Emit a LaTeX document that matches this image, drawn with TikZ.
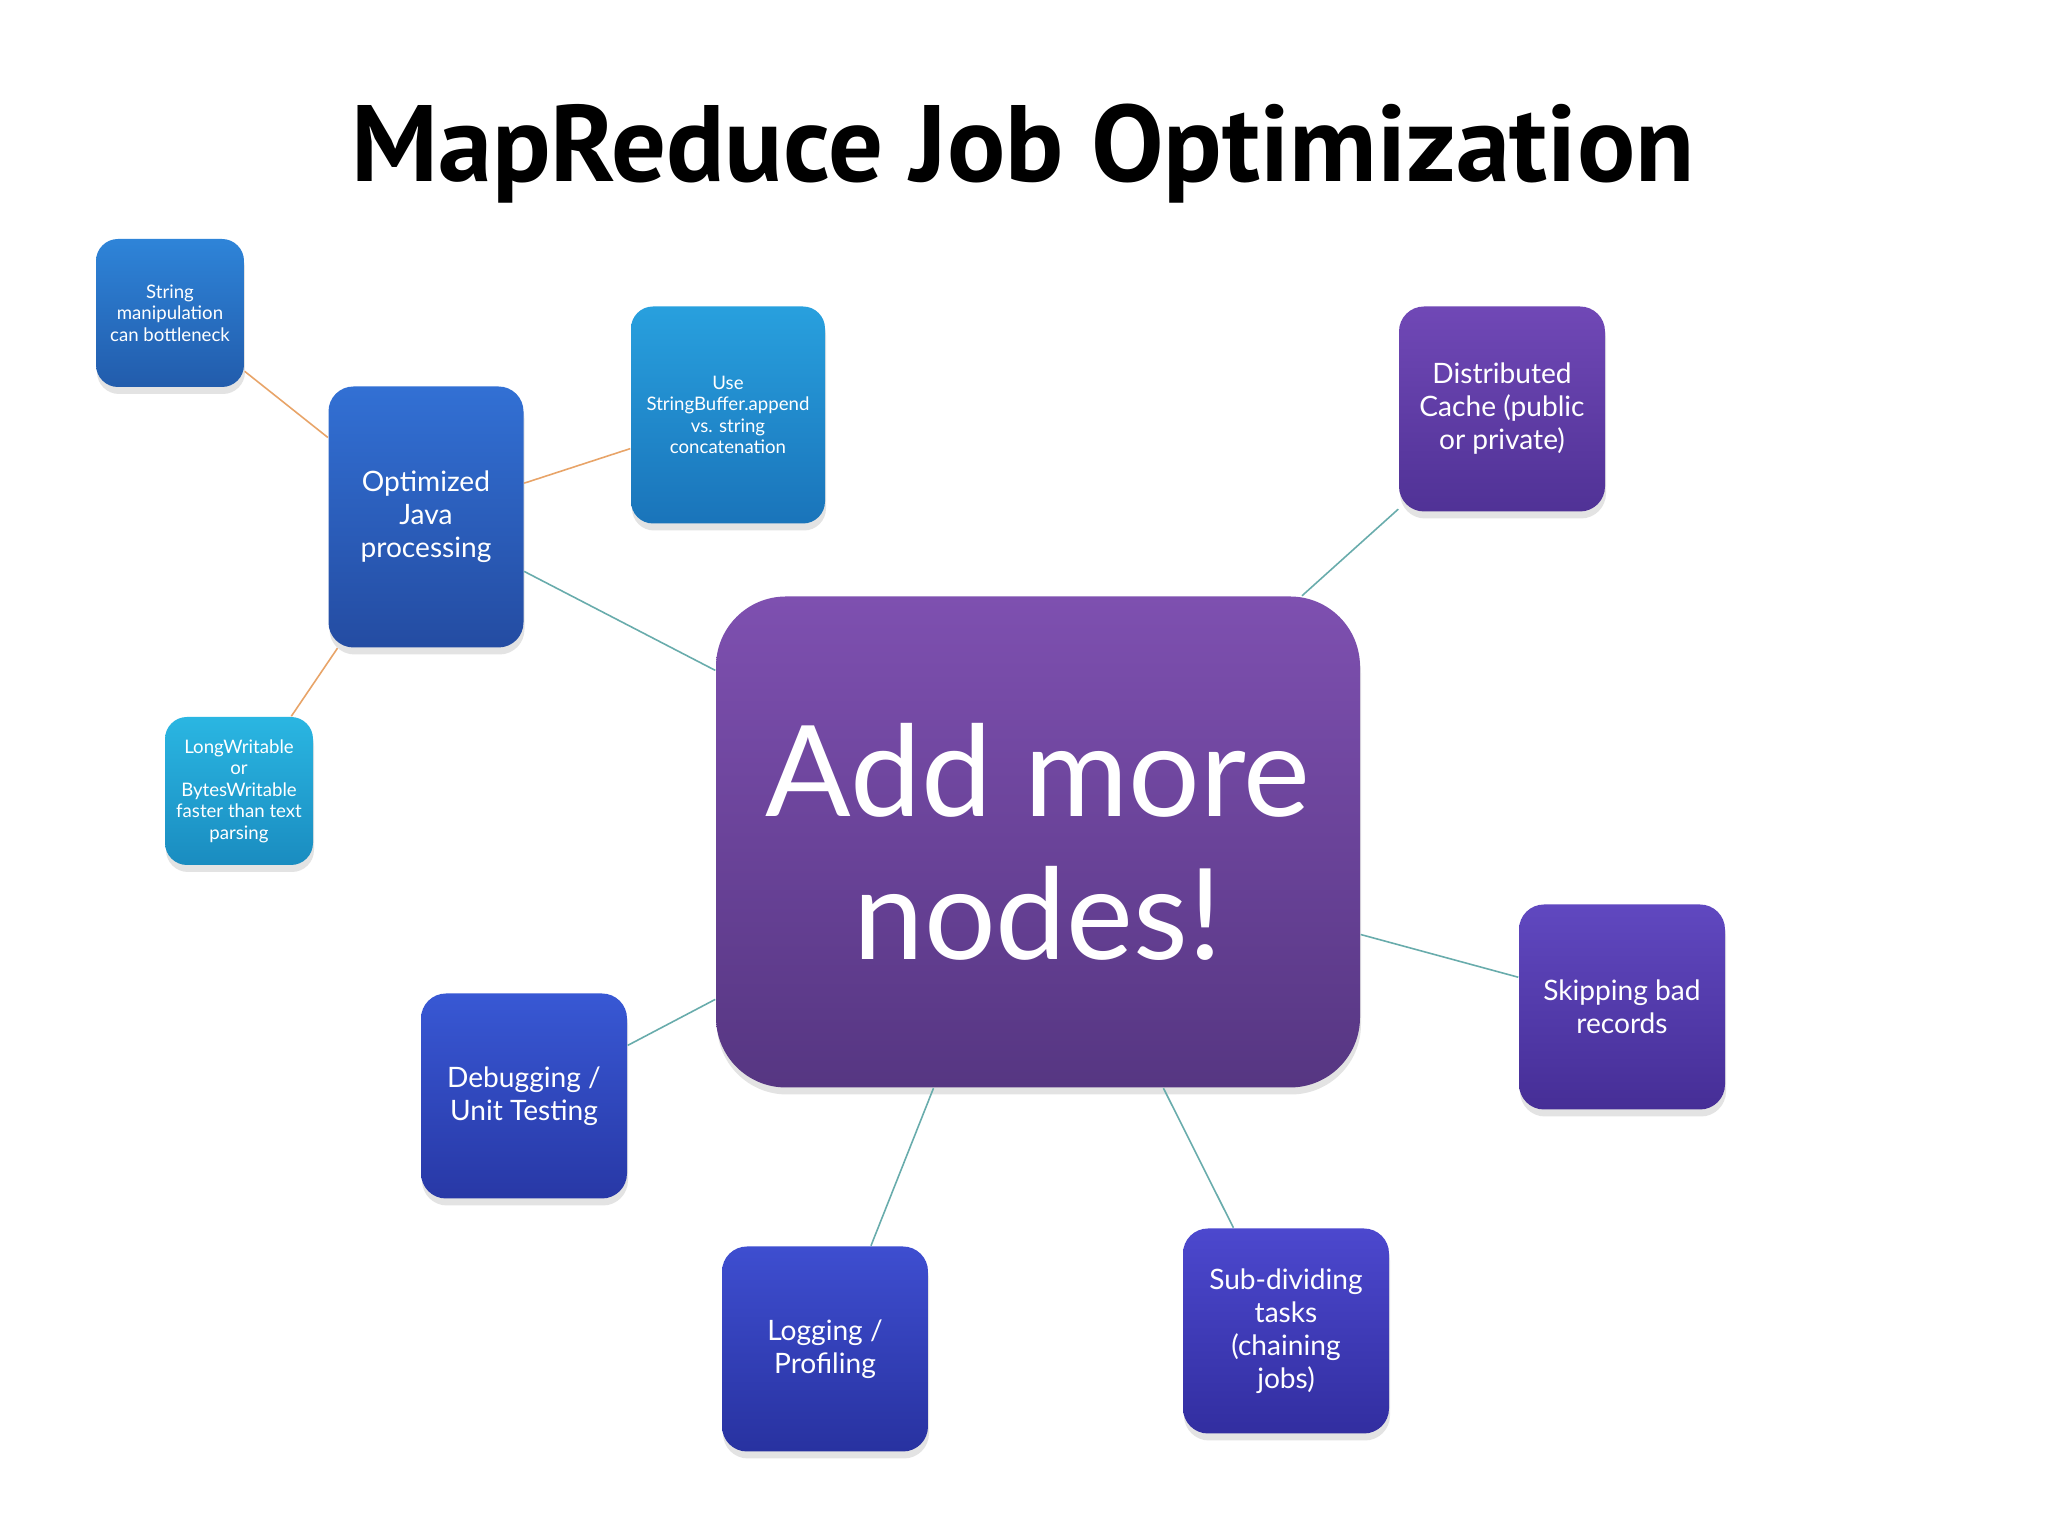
\documentclass[tikz,border=0pt]{standalone}
\usepackage{fontspec}
\setmainfont{Lato}
\newfontfamily\titlefont{PT Sans}
\usetikzlibrary{shadows}

\definecolor{stringTop}{RGB}{46,132,216}
\definecolor{stringBot}{RGB}{34,92,172}
\definecolor{javaTop}{RGB}{50,112,212}
\definecolor{javaBot}{RGB}{36,76,162}
\definecolor{bufferTop}{RGB}{40,160,222}
\definecolor{bufferBot}{RGB}{26,116,186}
\definecolor{writableTop}{RGB}{42,182,226}
\definecolor{writableBot}{RGB}{26,140,192}
\definecolor{cacheTop}{RGB}{112,72,182}
\definecolor{cacheBot}{RGB}{80,50,150}
\definecolor{mainTop}{RGB}{126,80,176}
\definecolor{mainBot}{RGB}{86,54,130}
\definecolor{skipTop}{RGB}{96,72,192}
\definecolor{skipBot}{RGB}{70,46,150}
\definecolor{debugTop}{RGB}{56,88,212}
\definecolor{debugBot}{RGB}{40,56,166}
\definecolor{logTop}{RGB}{62,78,208}
\definecolor{logBot}{RGB}{40,50,160}
\definecolor{subTop}{RGB}{76,72,206}
\definecolor{subBot}{RGB}{50,46,160}
\definecolor{linkOrange}{RGB}{232,164,104}
\definecolor{linkTeal}{RGB}{104,172,172}

\newcommand{\pageWidth}{20.48}
\newcommand{\pageHeight}{15.36}
\newcommand{\linkWidth}{0.45pt}

\tikzset{
  mapbox/.style={rounded corners=0.25cm, align=center, text=white, inner sep=0pt,
    drop shadow={opacity=0.22, shadow xshift=0.01, shadow yshift=-0.07}},
  topic/.style={mapbox, minimum width=2.06cm, minimum height=2.05cm,
    font=\fontsize{8}{9.4}\selectfont},
  detail/.style={mapbox, rounded corners=0.22cm, minimum width=1.48cm, minimum height=1.48cm,
    font=\fontsize{5.3}{6.1}\selectfont},
  orangelink/.style={draw=linkOrange, line width=\linkWidth},
  teallink/.style={draw=linkTeal, line width=\linkWidth}
}

\begin{document}
\begin{tikzpicture}
\useasboundingbox[fill=white] (0,0) rectangle (\pageWidth,\pageHeight);

\node (title) at (10.23,13.82) {\titlefont\bfseries\fontsize{30.9}{34}\selectfont MapReduce Job Optimization};

% centre node
\node[mapbox, rounded corners=0.7cm, minimum width=6.44cm, minimum height=4.91cm,
  top color=mainTop, bottom color=mainBot, font=\fontsize{36}{40.5}\selectfont]
  (main) at (10.38,6.94) {Add more\\nodes!};

% java branch
\node[topic, minimum width=1.95cm, minimum height=2.61cm, top color=javaTop, bottom color=javaBot]
  (java) at (4.26,10.19) {Optimized\\Java\\processing};
\node[detail, top color=stringTop, bottom color=stringBot]
  (string) at (1.70,12.23) {String\\manipulation\\can bottleneck};
\node[detail, minimum width=1.94cm, minimum height=2.17cm, top color=bufferTop, bottom color=bufferBot]
  (buffer) at (7.28,11.21) {Use\\StringBuffer.append\\vs. string\\concatenation};
\node[detail, top color=writableTop, bottom color=writableBot]
  (writable) at (2.39,7.45) {LongWritable\\or\\BytesWritable\\faster than text\\parsing};

% other topics
\node[topic, top color=cacheTop, bottom color=cacheBot]
  (cache) at (15.02,11.27) {Distributed\\Cache (public\\or private)};
\node[topic, top color=skipTop, bottom color=skipBot]
  (skip) at (16.22,5.29) {Skipping bad\\records};
\node[topic, top color=debugTop, bottom color=debugBot]
  (debug) at (5.24,4.40) {Debugging /\\Unit Testing};
\node[topic, top color=logTop, bottom color=logBot]
  (logging) at (8.25,1.87) {Logging /\\Profiling};
\node[topic, top color=subTop, bottom color=subBot]
  (subdiv) at (12.86,2.05) {Sub-dividing\\tasks\\(chaining\\jobs)};

% links
\draw[orangelink] (string.-38) -- (java.141);
\draw[orangelink] (java.19) -- (buffer.-161);
\draw[orangelink] (java.-124) -- (writable.55);
\draw[teallink] (java.-29) -- (main.152);
\draw[teallink] (main.43) -- (cache.-136);
\draw[teallink] (main.-16) -- (skip.164);
\draw[teallink] (main.-154) -- (debug.26);
\draw[teallink] (main.-113) -- (logging.66);
\draw[teallink] (main.-63) -- (subdiv.117);
\end{tikzpicture}
\end{document}
